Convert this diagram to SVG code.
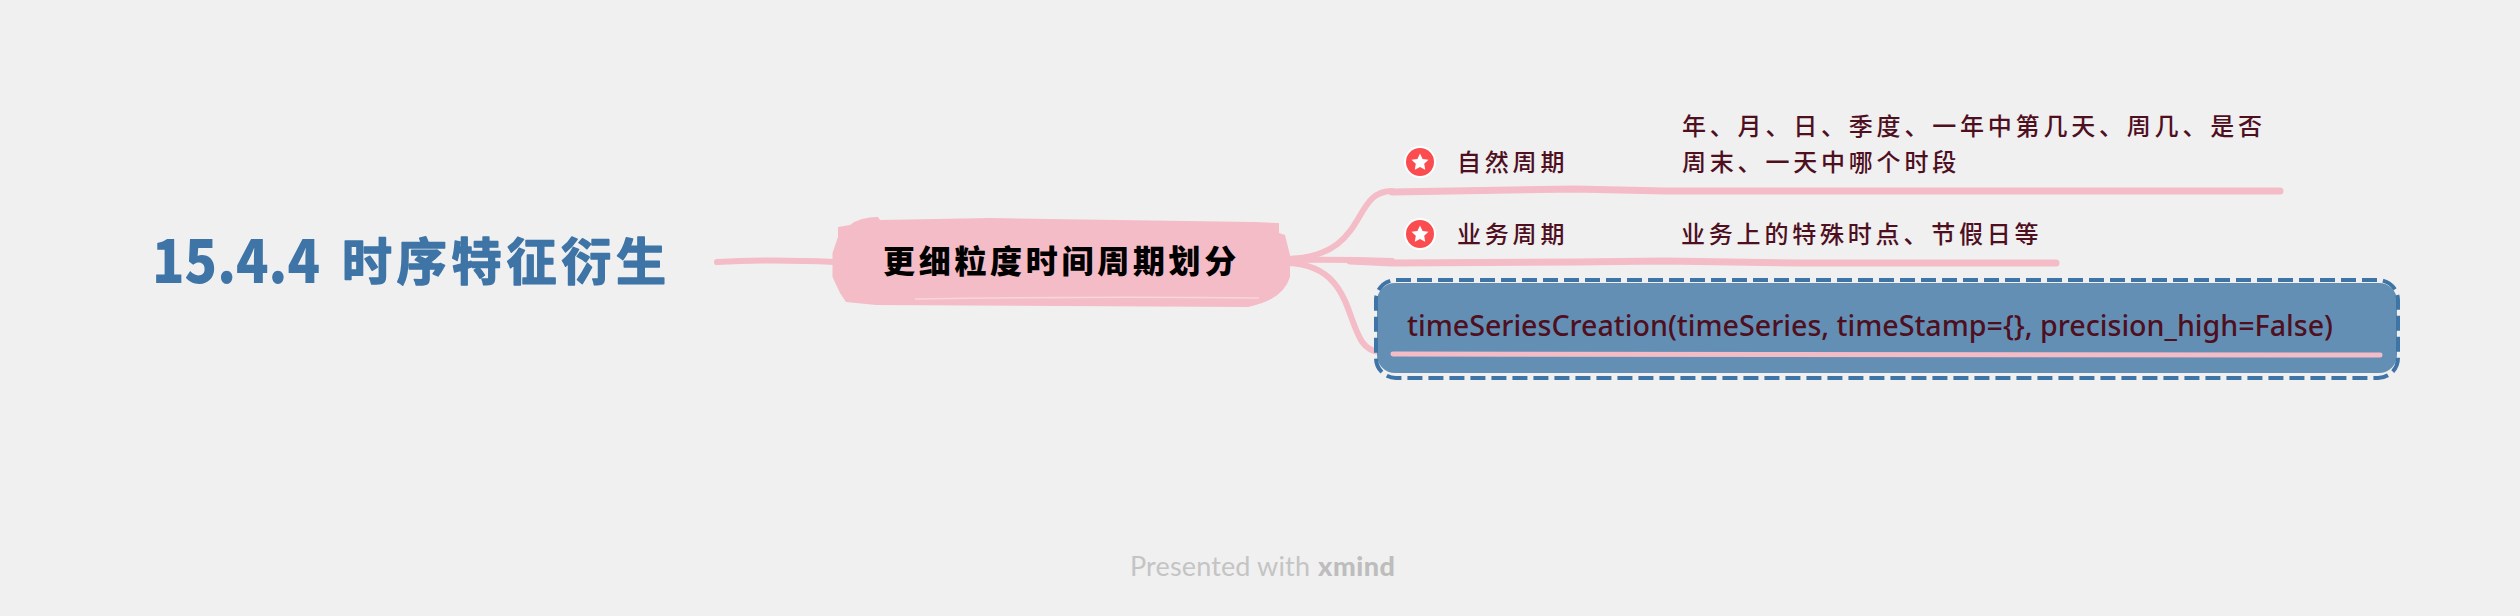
<svg xmlns="http://www.w3.org/2000/svg" width="2520" height="616" viewBox="0 0 2520 616">
<style>
.cn{font-family:"Noto Sans CJK SC","Noto Sans",sans-serif}
.lbl{font-size:24px;fill:#4e0f1f;font-weight:500;letter-spacing:3.800px}
.conn{fill:none;stroke:#f4bcc7;stroke-linecap:round;stroke-linejoin:round}
.star{fill:#fff}
</style>
<rect width="2520" height="616" fill="#f0f0f0"/>
<g id="connectors">
<path class="conn" stroke-width="6" d="M717 262 Q770 259 835 262"/>
<path class="conn" stroke-width="6" d="M1288 259 C1370 256 1350 191 1392 191"/>
<path class="conn" stroke-width="6" d="M1288 260 Q1340 259 1392 261"/>
<path class="conn" stroke-width="6" d="M1288 263 C1365 266 1340 350 1380 352"/>
<path class="conn" stroke-width="7" d="M1392 192 L1575 189 L1665 191 L2280 191"/>
<path class="conn" stroke-width="7" d="M1350 261 L1392 263 L1575 262 L1665 261 L1800 263 L2056 263"/>
</g>
<g id="root">
<text class="cn" x="152" y="283" font-size="60" font-weight="900" fill="#3e74a6" textLength="168" lengthAdjust="spacingAndGlyphs">15.4.4</text>
<text class="cn" x="342" y="280" font-size="50" font-weight="700" fill="#3e74a6" letter-spacing="4.800" stroke="#3e74a6" stroke-width="1.500" stroke-linejoin="round">时序特征衍生</text>
</g>
<g id="central">
<path fill="#f4bcc7" d="M878 217 L880 220 L991 218 L1255 222 L1279 223 L1279 233 L1285 235 L1290 255 L1290 277 Q1283 300 1248 307 L876 305 L846 302 L840 293 L832.500 277 L832.500 253 L838 237 L838 227 L850 225 Q860 217 878 217Z"/>
<path fill="none" stroke="#f8d6dc" stroke-width="1.500" d="M915 299 Q1100 296 1259 298"/>
<text class="cn" x="883" y="273" font-size="32" font-weight="900" fill="#000" letter-spacing="3.700">更细粒度时间周期划分</text>
</g>
<g id="natural">
<circle cx="1420" cy="162" r="16" fill="#fff"/><circle cx="1420" cy="162" r="14" fill="#fb4d4f"/>
<path class="star" d="M1420 153.500l2.600 5.400 5.900.8-4.300 4.100 1 5.900-5.200-2.800-5.200 2.800 1-5.900-4.300-4.100 5.900-.8z"/>
<text class="cn lbl" x="1457" y="171">自然周期</text>
<text class="cn lbl" x="1682" y="135">年、月、日、季度、一年中第几天、周几、是否</text>
<text class="cn lbl" x="1682" y="171">周末、一天中哪个时段</text>
</g>
<g id="business">
<circle cx="1420" cy="234" r="16" fill="#fff"/><circle cx="1420" cy="234" r="14" fill="#fb4d4f"/>
<path class="star" d="M1420 225.500l2.600 5.400 5.900.8-4.300 4.100 1 5.900-5.200-2.800-5.200 2.800 1-5.900-4.300-4.100 5.900-.8z"/>
<text class="cn lbl" x="1457" y="243">业务周期</text>
<text class="cn lbl" x="1681" y="243">业务上的特殊时点、节假日等</text>
</g>
<g id="code">
<rect x="1377" y="283" width="1020" height="90" rx="18" fill="#648fb5"/>
<rect x="1376" y="280" width="1022" height="98" rx="20" fill="none" stroke="#3e74a6" stroke-width="4" stroke-dasharray="15 6"/>
<text x="1407" y="336" font-family="'Noto Sans',sans-serif" font-size="28" font-weight="500" fill="#4e0f1f" textLength="926" lengthAdjust="spacingAndGlyphs">timeSeriesCreation(timeSeries, timeStamp={}, precision_high=False)</text>
<path class="conn" stroke-width="5" d="M1393 354 L2380 355"/>
</g>
<g id="footer">
<text x="1130" y="576" font-family="Lato,sans-serif" font-size="27" font-weight="400" fill="#c4c4c4" textLength="180">Presented with</text>
<text x="1318" y="576" font-family="Lato,sans-serif" font-size="27" font-weight="900" fill="#bdbdbd" textLength="77">xmind</text>
</g>
</svg>
